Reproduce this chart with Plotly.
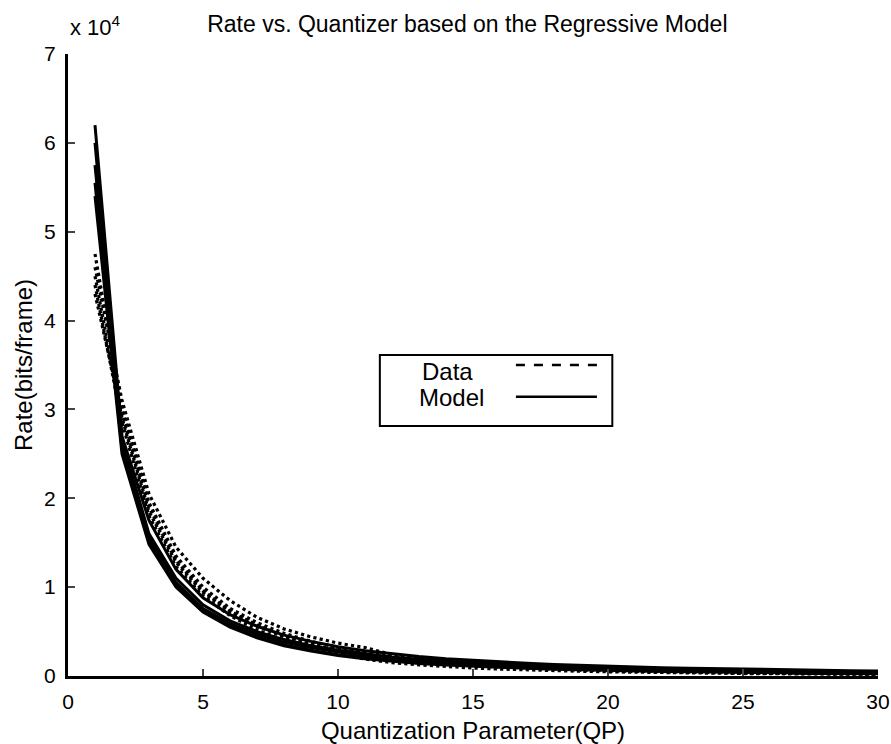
import plotly.graph_objects as go

qp = list(range(1, 31))

# Measured data curves (dotted)
data_1 = [46000, 31000, 20500, 14500, 11000, 8500, 6600, 5300, 4400, 3700, 3200, 2400, 2000, 1700, 1450,
          1250, 1100, 950, 850, 750, 680, 620, 560, 500, 450, 410, 370, 340, 310, 280]
data_2 = [47500, 30000, 19500, 13500, 10000, 7600, 6000, 4800, 3900, 3200, 2700, 2300, 1950, 1700, 1500,
          1300, 1150, 1000, 900, 800, 720, 650, 590, 540, 490, 450, 410, 380, 350, 320]
data_3 = [45000, 29000, 18500, 12800, 9400, 7200, 5600, 4400, 3500, 2800, 2300, 1900, 1600, 1350, 1150,
          1000, 870, 760, 670, 590, 520, 460, 410, 370, 330, 300, 270, 250, 230, 210]
data_4 = [44000, 28500, 18000, 12300, 9000, 6800, 5200, 4000, 3100, 2400, 1900, 1500, 1250, 1050, 900,
          780, 680, 600, 530, 470, 420, 380, 340, 310, 280, 260, 240, 220, 200, 190]
data_5 = [43000, 29500, 19000, 13000, 9600, 7300, 5700, 4500, 3600, 2900, 2400, 2000, 1650, 1400, 1200,
          1050, 920, 800, 700, 620, 550, 490, 440, 400, 360, 330, 300, 270, 250, 230]

# Model curves (solid)
model_1 = [62000, 27000, 17500, 12000, 8800, 6900, 5600, 4600, 3900, 3300, 2850, 2500, 2200, 1950, 1750,
           1580, 1430, 1300, 1190, 1090, 1010, 940, 880, 820, 770, 720, 680, 640, 600, 570]
model_2 = [60000, 26500, 16000, 11000, 8000, 6200, 5000, 4100, 3400, 2900, 2500, 2150, 1900, 1700, 1500,
           1350, 1220, 1100, 1000, 920, 850, 780, 720, 670, 620, 580, 540, 500, 470, 440]
model_3 = [57500, 26000, 15500, 10500, 7600, 5900, 4700, 3800, 3200, 2700, 2300, 2000, 1750, 1550, 1380,
           1240, 1120, 1010, 920, 840, 770, 710, 660, 610, 570, 530, 300, 280, 260, 250]
model_4 = [55500, 25500, 15000, 10200, 7300, 5600, 4400, 3500, 2900, 2400, 2050, 1750, 1520, 1330, 1180,
           1050, 940, 850, 770, 700, 640, 590, 540, 500, 470, 440, 410, 380, 360, 340]
model_5 = [54000, 25000, 14800, 10000, 7200, 5500, 4300, 3400, 2800, 2300, 1950, 1650, 1420, 1240, 1090,
           960, 860, 770, 690, 620, 560, 510, 470, 430, 400, 370, 340, 320, 300, 280]

x_ticks = [0, 5, 10, 15, 20, 25, 30]
y_ticks = [0, 10000, 20000, 30000, 40000, 50000, 60000, 70000]
y_tick_labels = ["0", "1", "2", "3", "4", "5", "6", "7"]

FONT = "Liberation Sans, Arial, sans-serif"

fig = go.Figure()
for d in [data_1, data_2, data_3, data_4, data_5]:
    fig.add_trace(go.Scatter(x=qp, y=d, mode="lines", showlegend=False,
                             line=dict(color="black", width=3.2, dash="dot")))
for m in [model_1, model_2, model_3, model_4, model_5]:
    fig.add_trace(go.Scatter(x=qp, y=m, mode="lines", showlegend=False,
                             line=dict(color="black", width=3)))

fig.update_layout(
    width=891, height=744,
    margin=dict(l=68, r=13, t=54, b=68, autoexpand=False),
    paper_bgcolor="white", plot_bgcolor="white",
    font=dict(family=FONT, color="black", size=20),
    title=dict(text="Rate vs. Quantizer based on the Regressive Model",
               x=0.493, xref="paper", xanchor="center",
               y=1 - 24 / 744, yanchor="middle",
               font=dict(size=23)),
    showlegend=False,
)
fig.update_xaxes(range=[0, 30], tickvals=x_ticks, ticks="inside", ticklen=7, tickwidth=2,
                 showline=True, linecolor="black", linewidth=3, showgrid=False, zeroline=False,
                 title=dict(text="Quantization Parameter(QP)", standoff=10),
                 tickfont=dict(size=21), ticklabeloverflow="allow", ticklabelstandoff=5,
                 automargin=False)
fig.update_yaxes(range=[0, 70000], tickvals=y_ticks, ticktext=y_tick_labels, ticks="inside",
                 ticklen=7, tickwidth=2, showline=True, linecolor="black", linewidth=3,
                 showgrid=False, zeroline=False, ticklabelstandoff=5,
                 title=dict(text="Rate(bits/frame)", standoff=5),
                 tickfont=dict(size=21), ticklabeloverflow="allow", automargin=False)

# exponent label
fig.add_annotation(text="x 10<sup>4</sup>", xref="paper", yref="paper", x=0.0, y=1.0,
                   xanchor="left", yanchor="bottom", yshift=12, showarrow=False,
                   font=dict(size=22))

# legend box (drawn manually, MATLAB style: text then line sample)
fig.add_shape(type="rect", xref="paper", yref="paper", x0=0.385, x1=0.672, y0=0.402, y1=0.516,
              line=dict(color="black", width=2), fillcolor="white", layer="above")
fig.add_annotation(text="Data", xref="paper", yref="paper", x=0.468, y=0.490, showarrow=False,
                   font=dict(size=24))
fig.add_annotation(text="Model", xref="paper", yref="paper", x=0.473, y=0.448, showarrow=False,
                   font=dict(size=24))
fig.add_shape(type="line", xref="paper", yref="paper", x0=0.553, x1=0.653, y0=0.500, y1=0.500,
              line=dict(color="black", width=2.5, dash="dash"), layer="above")
fig.add_shape(type="line", xref="paper", yref="paper", x0=0.553, x1=0.653, y0=0.449, y1=0.449,
              line=dict(color="black", width=2.5), layer="above")

fig.write_html("out.html", config={"displayModeBar": False},
               post_script="document.body.style.margin='0';")
